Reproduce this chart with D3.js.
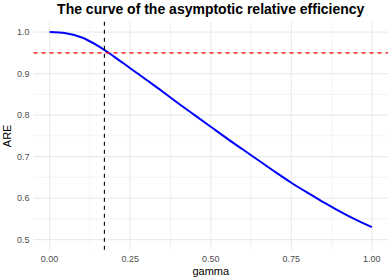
<!DOCTYPE html>
<html lang="en">
<head>
  <meta charset="UTF-8" />
  <title>ARE curve</title>
  <script src="https://d3js.org/d3.v7.min.js"></script>
  <style>
    body { margin: 0; background: white; font-family: "Liberation Sans", Arial, sans-serif; }
    .grid line { stroke: #ebebeb; }
    .tick-label { fill: #4d4d4d; font-size: 9px; }
  </style>
</head>
<body>
  <svg id="chart" width="392" height="280"></svg>

  <script>
    // values
    const gamma = [0, 0.05, 0.10, 0.15, 0.20, 0.25, 0.30, 0.35, 0.40, 0.45, 0.50,
                   0.55, 0.60, 0.65, 0.70, 0.75, 0.80, 0.85, 0.90, 0.95, 1.00];
    const are = [1.000, 0.997, 0.987, 0.967, 0.941, 0.913, 0.885, 0.857, 0.828, 0.800, 0.772,
                 0.744, 0.717, 0.690, 0.663, 0.637, 0.613, 0.590, 0.568, 0.548, 0.530];
    const xTicks = [0, 0.25, 0.5, 0.75, 1];
    const yTicks = [0.5, 0.6, 0.7, 0.8, 0.9, 1.0];
    const xMinor = [0.125, 0.375, 0.625, 0.875];
    const yMinor = [0.55, 0.65, 0.75, 0.85, 0.95];
    const hLine = 0.95;   // red reference line
    const vLine = 0.17;   // black reference line

    const svg = d3.select("#chart");
    const pLeft = 33.5, pRight = 388, pTop = 21.7, pBottom = 250;

    const x = d3.scaleLinear().domain([-0.05, 1.05]).range([pLeft, pRight]);
    const y = d3.scaleLinear().domain([0.475, 1.025]).range([pBottom, pTop]);

    const grid = svg.append("g").attr("class", "grid");
    grid.selectAll(".xmin").data(xMinor).join("line")
      .attr("x1", d => x(d)).attr("x2", d => x(d)).attr("y1", pTop).attr("y2", pBottom)
      .attr("stroke-width", 0.6);
    grid.selectAll(".ymin").data(yMinor).join("line")
      .attr("y1", d => y(d)).attr("y2", d => y(d)).attr("x1", pLeft).attr("x2", pRight)
      .attr("stroke-width", 0.6);
    grid.selectAll(".xmaj").data(xTicks).join("line")
      .attr("x1", d => x(d)).attr("x2", d => x(d)).attr("y1", pTop).attr("y2", pBottom)
      .attr("stroke-width", 1.1);
    grid.selectAll(".ymaj").data(yTicks).join("line")
      .attr("y1", d => y(d)).attr("y2", d => y(d)).attr("x1", pLeft).attr("x2", pRight)
      .attr("stroke-width", 1.1);

    // tick labels
    svg.selectAll(".xl").data(xTicks).join("text")
      .attr("class", "tick-label")
      .attr("x", d => x(d)).attr("y", 262)
      .attr("text-anchor", "middle")
      .text(d => d3.format(".2f")(d));
    svg.selectAll(".yl").data(yTicks).join("text")
      .attr("class", "tick-label")
      .attr("x", 29.5).attr("y", d => y(d) + 3.2)
      .attr("text-anchor", "end")
      .text(d => d3.format(".1f")(d));

    // curve
    const pts = gamma.map((g, i) => [g, are[i]]);
    svg.append("path")
      .datum(pts)
      .attr("fill", "none")
      .attr("stroke", "blue")
      .attr("stroke-width", 2)
      .attr("d", d3.line().x(d => x(d[0])).y(d => y(d[1])).curve(d3.curveCatmullRom));

    svg.append("line")
      .attr("x1", pLeft).attr("x2", pRight)
      .attr("y1", y(hLine)).attr("y2", y(hLine))
      .attr("stroke", "red").attr("stroke-width", 1.1)
      .attr("stroke-dasharray", "4,4");
    svg.append("line")
      .attr("x1", x(vLine)).attr("x2", x(vLine))
      .attr("y1", pTop).attr("y2", pBottom)
      .attr("stroke", "black").attr("stroke-width", 1.1)
      .attr("stroke-dasharray", "4,4");

    // titles
    svg.append("text")
      .attr("x", (pLeft + pRight) / 2).attr("y", 14)
      .attr("text-anchor", "middle")
      .attr("font-size", 14).attr("font-weight", "bold")
      .text("The curve of the asymptotic relative efficiency");
    svg.append("text")
      .attr("x", (pLeft + pRight) / 2).attr("y", 274.5)
      .attr("text-anchor", "middle")
      .attr("font-size", 11)
      .text("gamma");
    svg.append("text")
      .attr("transform", `translate(11,${(pTop + pBottom) / 2}) rotate(-90)`)
      .attr("text-anchor", "middle")
      .attr("font-size", 11)
      .text("ARE");
  </script>
</body>
</html>
